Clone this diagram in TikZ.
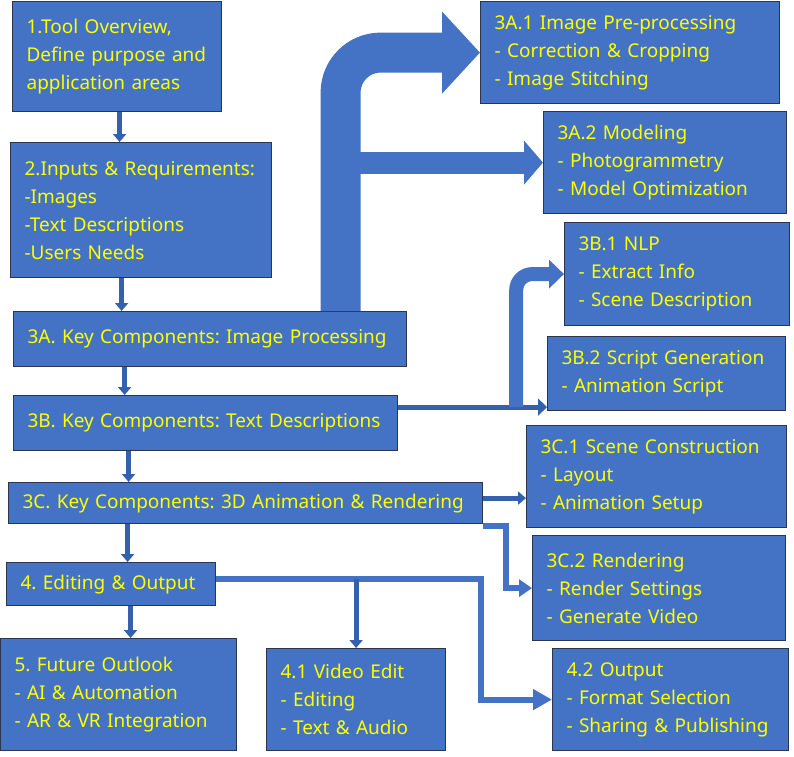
\documentclass[tikz,border=0pt]{standalone}
\usepackage{fontspec}
\setmainfont{Noto Sans}
\usetikzlibrary{arrows.meta}
\definecolor{boxblue}{HTML}{4472C4}
\definecolor{boxline}{HTML}{2B3550}
\definecolor{arrowline}{HTML}{3560AE}
\definecolor{labelyellow}{HTML}{FFFF00}
\frenchspacing

\begin{document}
\begin{tikzpicture}[x=1pt,y=-1pt,font=\fontsize{19}{28}\selectfont]
    \tikzstyle{box}=[rectangle,draw=boxline,line width=1.2pt,fill=boxblue,text=labelyellow,
      anchor=north west,align=left,inner xsep=14pt,inner ysep=0pt]
    \tikzstyle{thin arrow}=[draw=arrowline,line width=5pt,-{Triangle[width=13pt,length=8pt]}]
    \tikzstyle{block arrow}=[draw=boxblue]
    \tikzstyle{elbow}=[draw=boxblue,line width=6pt]

    \useasboundingbox (0,0) rectangle (794,756);

    % main column
    \node[box,text width=181pt,minimum height=110pt] (tool) at (12,1)
      {1.Tool Overview,\\Define purpose and\\application areas};
    \node[box,text width=233pt,minimum height=135pt] (inputs) at (10,142)
      {2.Inputs \& Requirements:\\-Images\\-Text Descriptions\\-Users Needs};
    \node[box,text width=365pt,minimum height=55pt] (imgproc) at (13,311)
      {3A. Key Components: Image Processing};
    \node[box,text width=356pt,minimum height=55pt] (textdesc) at (13,395)
      {3B. Key Components: Text Descriptions};
    \node[box,text width=446pt,minimum height=41pt] (anim) at (8,482)
      {3C. Key Components: 3D Animation \& Rendering};
    \node[box,text width=181pt,minimum height=43pt] (output) at (6,562)
      {4. Editing \& Output};
    \node[box,text width=208pt,minimum height=112pt] (outlook) at (0,638)
      {5. Future Outlook\\- AI \& Automation\\- AR \& VR Integration};

    % right column
    \node[box,text width=271pt,minimum height=102pt] (preproc) at (480,1)
      {3A.1 Image Pre-processing\\- Correction \& Cropping\\- Image Stitching};
    \node[box,text width=215pt,minimum height=102pt] (modeling) at (543,111)
      {3A.2 Modeling\\- Photogrammetry\\- Model Optimization};
    \node[box,text width=197pt,minimum height=103pt] (nlp) at (564,222)
      {3B.1 NLP\\- Extract Info\\- Scene Description};
    \node[box,text width=210pt,minimum height=74pt] (script) at (547,336)
      {3B.2 Script Generation\\- Animation Script};
    \node[box,text width=232pt,minimum height=102pt] (scene) at (526,425)
      {3C.1 Scene Construction\\- Layout\\- Animation Setup};
    \node[box,text width=225pt,minimum height=105pt] (render) at (532,535)
      {3C.2 Rendering\\- Render Settings\\- Generate Video};
    \node[box,text width=151pt,minimum height=102pt] (video) at (266,648)
      {4.1 Video Edit\\- Editing\\- Text \& Audio};
    \node[box,text width=208pt,minimum height=102pt] (final) at (552,648)
      {4.2 Output\\- Format Selection\\- Sharing \& Publishing};

    % steps down the main column
    \foreach \a/\b/\dx in {tool/inputs/2.5,inputs/imgproc/-19.5,imgproc/textdesc/-85.5,
                           textdesc/anim/-77,anim/output/-118,output/outlook/19.5}
    \draw[thin arrow] ([xshift=\dx pt]\a.south) -- ([xshift=\dx pt]\a.south |- \b.north);

    % image processing branches
    \coordinate (trunk) at ([xshift=130.5pt]imgproc.north);
    \draw[block arrow,line width=40pt,rounded corners=40pt,-{Triangle[width=80pt,length=38pt]}]
      (trunk) |- (preproc.west);
    \draw[block arrow,line width=22pt,-{Triangle[width=43pt,length=19pt]}]
      (trunk |- modeling.west) -- (modeling.west);

    % text description branches
    \coordinate (fork) at ([yshift=16pt]textdesc.east);
    \draw[thin arrow,-{Triangle[width=17pt,length=9pt]}] (fork) -- (fork -| script.west);
    \draw[block arrow,line width=14pt,rounded corners=16pt,-{Triangle[width=28pt,length=15pt]}]
      ([xshift=118pt]fork) |- (nlp.west);

    % animation branches
    \draw[thin arrow] ([yshift=5pt]anim.east) -- ([yshift=5pt]anim.east -| scene.west);
    \draw[elbow,-{Triangle[width=17pt,length=13pt]}]
      ([yshift=-2pt]anim.south east) -- ++(23,0) |- (render.west);

    % output branches
    \coordinate (bus) at ([yshift=5.5pt]output.east);
    \draw[elbow,-{Triangle[width=20pt,length=19pt]}] (bus) -- ++(265,0) |- (final.west);
    \draw[thin arrow] (bus -| video.north) -- (video.north);
  \end{tikzpicture}
\end{document}
